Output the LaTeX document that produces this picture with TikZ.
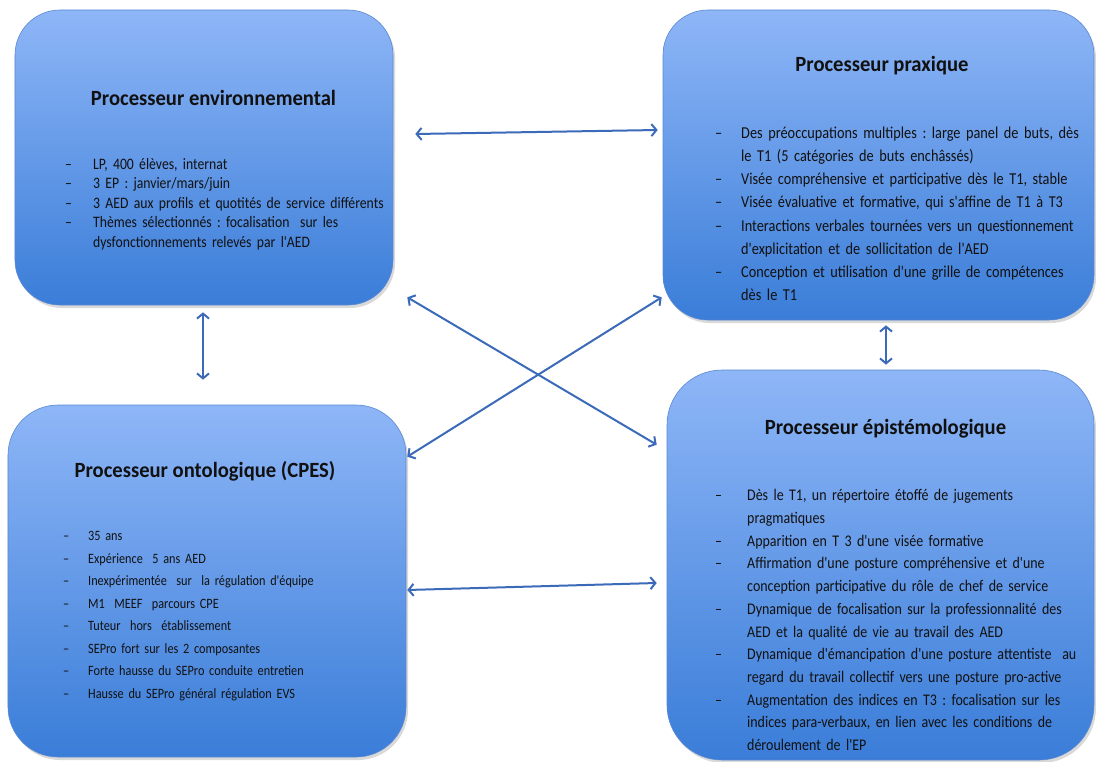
\documentclass[tikz,border=0pt]{standalone}
\usepackage{fontspec}
\setmainfont{Carlito}
\newfontfamily\itemfont[FakeStretch=0.86]{Carlito}
\newfontfamily\titlefont[FakeStretch=0.95]{Carlito}
\usetikzlibrary{arrows.meta,shadows}
\definecolor{boxtop}{HTML}{8EB6F7}
\definecolor{boxbot}{HTML}{3A7DD8}
\definecolor{boxedge}{HTML}{5A88D2}
\definecolor{linkblue}{HTML}{3B6AB8}
\definecolor{txt}{HTML}{111111}
\newlength{\itmind}
\newcommand{\itm}[1]{\par\noindent\hangindent=\itmind\hangafter=1\makebox[\itmind][l]{–}#1}
\frenchspacing

\begin{document}
\begin{tikzpicture}[x=1bp, y=-1bp,
  procbox/.style={draw=boxedge, line width=0.6bp, rounded corners=45bp,
    top color=boxtop, bottom color=boxbot, inner sep=0pt,
    drop shadow={shadow xshift=2bp, shadow yshift=-3bp, opacity=0.3}},
  proctitle/.style={anchor=base, inner sep=0pt, text=txt,
    font=\titlefont\bfseries\fontsize{21.8}{26}\selectfont},
  proclist/.style={anchor=base west, inner sep=0pt, text=txt, align=left},
  link/.style={draw=linkblue, line width=2bp, <->,
    >={Straight Barb[length=5bp,width=12bp]}}]
\useasboundingbox (0,0) rectangle (1096,762);
%% --- boxes ---
\node[procbox, minimum width=378bp, minimum height=295bp] (env)   at (204,157.5) {};
\node[procbox, minimum width=431bp, minimum height=310bp] (prax)  at (878.5,165) {};
\node[procbox, minimum width=398bp, minimum height=352bp, rounded corners=50bp] (onto) at (207,581) {};
\node[procbox, minimum width=427bp, minimum height=390bp, rounded corners=55bp] (epist) at (880.5,565) {};

%% --- titles ---
\node[proctitle] (env-title)   at (213.5,106) {Processeur environnemental};
\node[proctitle] (prax-title)  at (882,72)    {Processeur praxique};
\node[proctitle] (onto-title)  at (205,477)   {Processeur ontologique (CPES)};
\node[proctitle] (epist-title) at (885.5,434) {Processeur épistémologique};

%% --- lists ---
\node[proclist, text width=325bp, font=\itemfont\fontsize{16}{19.5}\selectfont]
  (env-list) at (65,150) {\setlength{\itmind}{28bp}%
  \itm{LP, 400 élèves, internat}
  \itm{3 EP : janvier/mars/juin}
  \itm{3 AED aux profils et quotités de service différents}
  \itm{Thèmes sélectionnés : focalisation\ \ sur les\newline dysfonctionnements relevés par l'AED}\par};

\node[proclist, text width=375bp, font=\itemfont\fontsize{16.7}{23.3}\selectfont]
  (prax-list) at (715,115) {\setlength{\itmind}{26bp}%
  \itm{Des préoccupations multiples : large panel de buts, dès\newline le T1 (5 catégories de buts enchâssés)}
  \itm{Visée compréhensive et participative dès le T1, stable}
  \itm{Visée évaluative et formative, qui s'affine de T1 à T3}
  \itm{Interactions verbales tournées vers un questionnement\newline d'explicitation et de sollicitation de l'AED}
  \itm{Conception et utilisation d'une grille de compétences\newline dès le T1}\par};

\node[proclist, text width=335bp, font=\itemfont\fontsize{14.3}{22.6}\selectfont]
  (onto-list) at (63,518) {\setlength{\itmind}{25bp}%
  \itm{35 ans}
  \itm{Expérience\ \ 5 ans AED}
  \itm{Inexpérimentée\ \ sur\ \ la régulation d'équipe}
  \itm{M1\ \ MEEF\ \ parcours CPE}
  \itm{Tuteur\ \ hors\ \ établissement}
  \itm{SEPro fort sur les 2 composantes}
  \itm{Forte hausse du SEPro conduite entretien}
  \itm{Hausse du SEPro général régulation EVS}\par};

\node[proclist, text width=375bp, font=\itemfont\fontsize{16.3}{22.8}\selectfont]
  (epist-list) at (715,478) {\setlength{\itmind}{32bp}%
  \itm{Dès le T1, un répertoire étoffé de jugements\newline pragmatiques}
  \itm{Apparition en T 3 d'une visée formative}
  \itm{Affirmation d'une posture compréhensive et d'une\newline conception participative du rôle de chef de service}
  \itm{Dynamique de focalisation sur la professionnalité des\newline AED et la qualité de vie au travail des AED}
  \itm{Dynamique d'émancipation d'une posture attentiste\ \ au\newline regard du travail collectif vers une posture pro-active}
  \itm{Augmentation des indices en T3 : focalisation sur les\newline indices para-verbaux, en lien avec les conditions de\newline déroulement de l'EP}\par};

%% --- links ---
\draw[link] ([shift={(22,-23.5)}]env.east) -- ([shift={(-5,-35)}]prax.west);
\draw[link] ([shift={(1,9)}]onto.east) -- ([shift={(-10,18)}]epist.west);
\draw[link] ([shift={(14,-8)}]env.south east) -- ([shift={(-10,75)}]epist.north west);
\draw[link] ([shift={(1,52)}]onto.north east) -- ([shift={(-1,-23)}]prax.south west);
\draw[link] ([shift={(-1,7)}]env.south) -- ([shift={(-4,-25)}]onto.north);
\draw[link] ([shift={(7.5,5)}]prax.south) -- ([shift={(5.5,-5)}]epist.north);
\end{tikzpicture}
\end{document}
